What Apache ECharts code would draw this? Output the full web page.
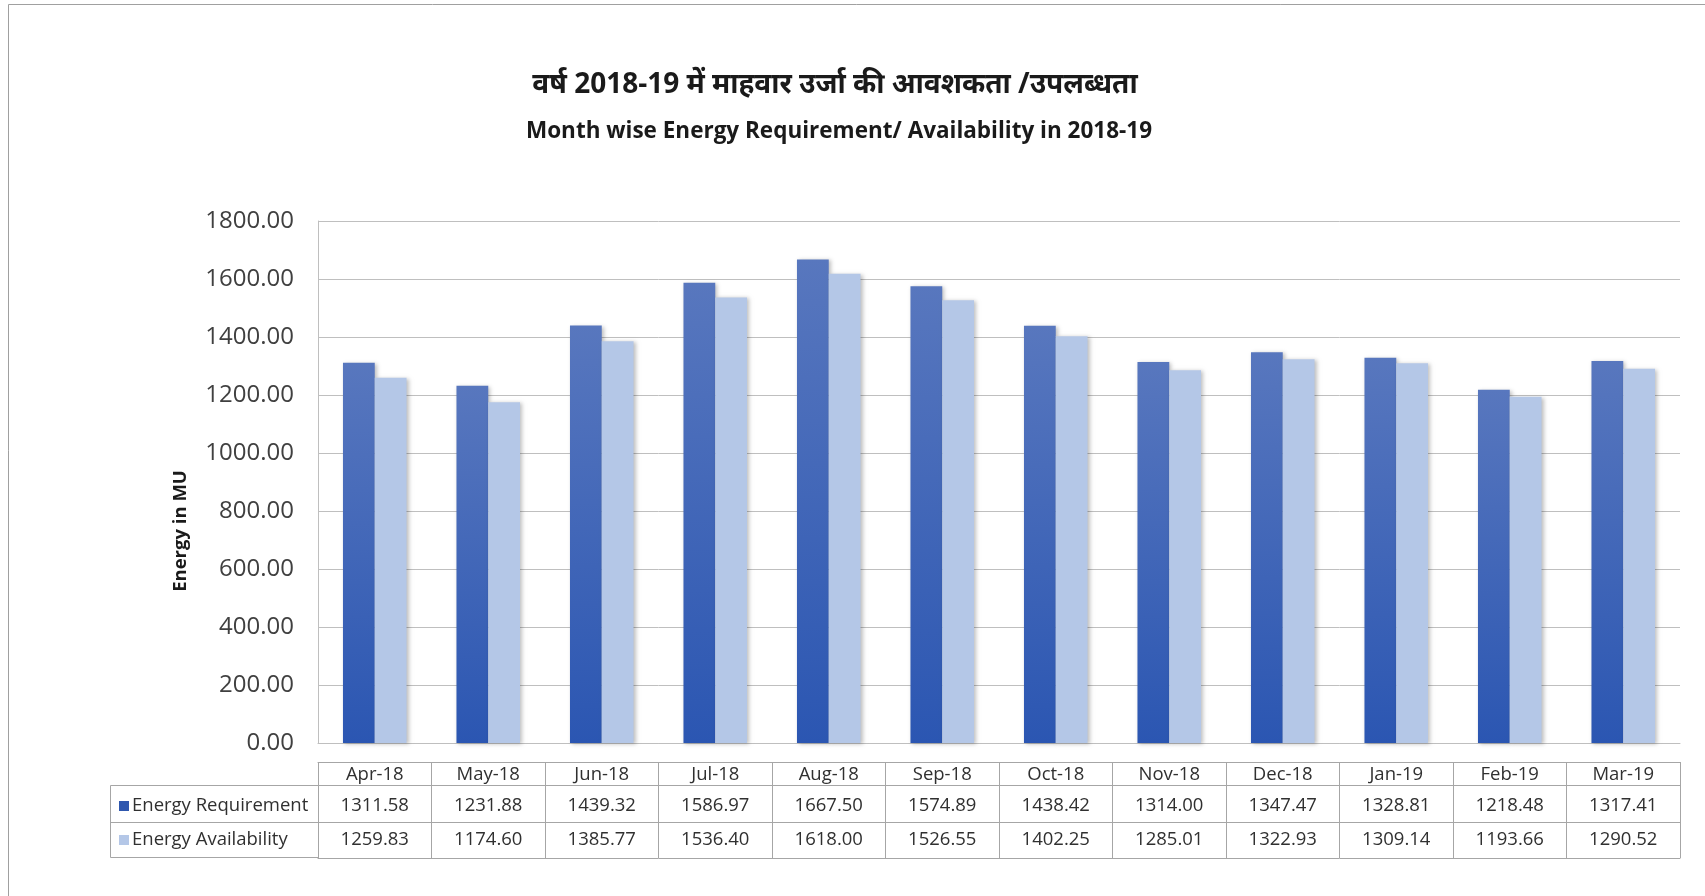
<!DOCTYPE html>
<html>
<head>
<meta charset="utf-8">
<script src="https://cdn.jsdelivr.net/npm/echarts@6/dist/echarts.min.js"></script>
<style>
html,body{margin:0;padding:0;background:#fff;}
#chart{width:1705px;height:896px;}
</style>
</head>
<body>
<div id="chart"></div>
<script>
var months = ['Apr-18','May-18','Jun-18','Jul-18','Aug-18','Sep-18','Oct-18','Nov-18','Dec-18','Jan-19','Feb-19','Mar-19'];
var requirement = [1311.58,1231.88,1439.32,1586.97,1667.50,1574.89,1438.42,1314.00,1347.47,1328.81,1218.48,1317.41];
var availability = [1259.83,1174.60,1385.77,1536.40,1618.00,1526.55,1402.25,1285.01,1322.93,1309.14,1193.66,1290.52];
var seriesNames = ['Energy Requirement','Energy Availability'];
var yTicks = {min:0, max:1800, interval:200};

var FONT = '"Open Sans", "Noto Sans", sans-serif';
var lineCol = '#a6a6a6';
var txtCol = '#303030';

function tableAxis(offset, tickLen, labelFn, margin, showLabel, showTick) {
  return {
    type:'category', data:months, position:'bottom', offset:offset,
    axisLine:{show:true, lineStyle:{color:lineCol, width:1}},
    axisTick:{show:showTick, interval:0, length:tickLen, inside:false, lineStyle:{color:lineCol}},
    axisLabel:{show:showLabel, interval:0, margin:margin, fontSize:18.5, color:txtCol, fontFamily:FONT, formatter:labelFn},
    splitLine:{show:false}
  };
}

var chart = echarts.init(document.getElementById('chart'), null, {renderer:'canvas'});
var darkGrad = new echarts.graphic.LinearGradient(0,0,0,1,[{offset:0,color:'#5877be'},{offset:1,color:'#2b56b2'}]);
chart.setOption({
  backgroundColor:'#ffffff',
  animation:false,
  title:[
    {text:'वर्ष 2018-19 में माहवार उर्जा की आवशकता /उपलब्धता', left:830, top:66, textAlign:'center',
     textStyle:{fontSize:28, fontWeight:'bold', color:'#1a1a1a', fontFamily:FONT}},
    {text:'Month wise Energy Requirement/ Availability in 2018-19', left:834, top:115, textAlign:'center',
     textStyle:{fontSize:22.5, fontWeight:'bold', color:'#1a1a1a', fontFamily:FONT}}
  ],
  legend:{
    orient:'vertical', left:114, top:791, itemWidth:10, itemHeight:10, itemGap:14,
    icon:'rect', selectedMode:false,
    data:[{name:seriesNames[0], itemStyle:{color:'#2f57ae'}},{name:seriesNames[1], itemStyle:{color:'#b4c7e7'}}],
    textStyle:{fontSize:18.5, lineHeight:20, color:txtCol, fontFamily:FONT, padding:[0,0,0,-2]}
  },
  grid:{left:318, right:25, top:221, bottom:153, containLabel:false},
  xAxis:[
    {type:'category', data:months, position:'bottom',
     axisLine:{show:true, lineStyle:{color:'#bfbfbf'}}, axisTick:{show:false}, axisLabel:{show:false}},
    tableAxis(19, 23, function(v){return v;}, 3, true, true),
    tableAxis(42, 37, function(v,i){return requirement[i].toFixed(2);}, 11, true, true),
    tableAxis(79, 36, function(v,i){return availability[i].toFixed(2);}, 8, true, true),
    tableAxis(115, 0, null, 0, false, false)
  ],
  yAxis:{
    type:'value', min:yTicks.min, max:yTicks.max, interval:yTicks.interval,
    axisLine:{show:true, lineStyle:{color:'#bfbfbf'}}, axisTick:{show:false},
    axisLabel:{fontSize:24, color:'#404040', margin:24, fontFamily:FONT, formatter:function(v){return v.toFixed(2);}},
    splitLine:{show:true, lineStyle:{color:'#bfbfbf', width:1}}
  },
  series:[
    {name:seriesNames[0], type:'bar', data:requirement, xAxisIndex:0, barGap:'0%', barCategoryGap:'44%',
     itemStyle:{color:darkGrad, shadowColor:'rgba(0,0,0,0.25)', shadowBlur:4, shadowOffsetX:2, shadowOffsetY:1}},
    {name:seriesNames[1], type:'bar', data:availability, xAxisIndex:0, barGap:'0%', barCategoryGap:'44%',
     itemStyle:{color:'#b4c7e7', shadowColor:'rgba(0,0,0,0.25)', shadowBlur:4, shadowOffsetX:2, shadowOffsetY:1}}
  ],
  graphic:[
    {type:'line', shape:{x1:8.5,y1:4.5,x2:8.5,y2:896}, style:{stroke:'#a0a0a0', lineWidth:1}, silent:true},
    {type:'line', shape:{x1:8.5,y1:4.5,x2:1705,y2:4.5}, style:{stroke:'#a0a0a0', lineWidth:1}, silent:true},
    {type:'rect', shape:{x:110.5,y:785.5,width:208,height:72}, style:{fill:'none', stroke:lineCol, lineWidth:1}, silent:true},
    {type:'line', shape:{x1:110.5,y1:822.5,x2:318,y2:822.5}, style:{stroke:lineCol, lineWidth:1}, silent:true},
    {type:'text', x:181, y:531, rotation:Math.PI/2,
     style:{text:'Energy in MU', fontSize:18.5, fontWeight:'bold', fill:'#1a1a1a', fontFamily:FONT, align:'center', verticalAlign:'middle'}, silent:true}
  ]
});
</script>
</body>
</html>
